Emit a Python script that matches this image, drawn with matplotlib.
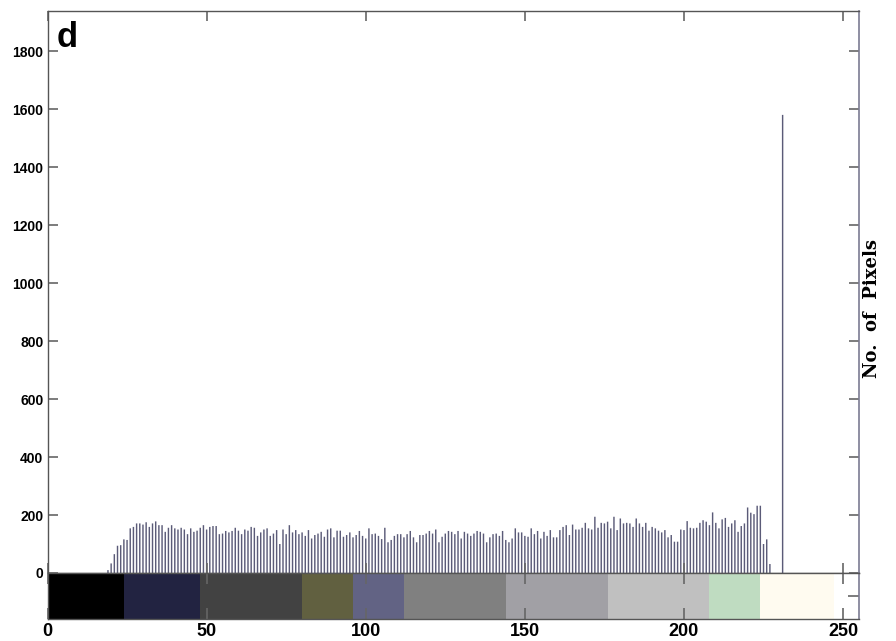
import numpy as np
import matplotlib
matplotlib.use("Agg")
import matplotlib.pyplot as plt

# Grey-level histogram: pixel counts per intensity level
levels = np.arange(19, 228)
counts = [
    10, 33, 65, 94, 96, 116, 114, 154, 159, 171,
    171, 167, 175, 159, 171, 178, 165, 165, 142, 156,
    165, 154, 150, 156, 150, 134, 154, 142, 146, 156,
    165, 150, 159, 162, 162, 134, 136, 145, 140, 145,
    156, 146, 134, 150, 146, 159, 156, 128, 140, 150,
    154, 128, 136, 148, 100, 150, 134, 165, 140, 148,
    134, 140, 128, 148, 119, 131, 136, 142, 125, 150,
    154, 123, 146, 146, 125, 131, 140, 123, 131, 145,
    128, 119, 154, 134, 136, 128, 117, 156, 106, 114,
    128, 134, 134, 123, 134, 145, 123, 106, 131, 131,
    136, 145, 136, 150, 106, 125, 136, 145, 142, 134,
    145, 119, 142, 136, 128, 136, 145, 142, 136, 106,
    123, 134, 136, 128, 145, 114, 106, 119, 154, 140,
    140, 128, 125, 154, 134, 145, 119, 142, 128, 148,
    123, 123, 148, 159, 165, 131, 167, 150, 150, 156,
    173, 154, 150, 194, 156, 173, 171, 177, 154, 194,
    148, 188, 171, 173, 171, 159, 188, 171, 159, 173,
    146, 159, 154, 146, 140, 148, 123, 131, 108, 108,
    150, 148, 179, 156, 154, 156, 173, 182, 177, 165,
    209, 173, 154, 185, 190, 159, 171, 182, 142, 162,
    171, 226, 208, 203, 232, 232, 100, 116, 31,
]
spike_level = [231]
spike_count = [1580]

# Colour-scale strip under the histogram
seg_edges = [0, 24, 48, 80, 96, 112, 144, 176, 208, 224, 247]
seg_colors = ["#000000", "#222341", "#424242", "#616040", "#626384",
              "#808080", "#a1a0a5", "#c0c0c0", "#bfdcc1", "#fffbf0"]

x_ticks = [0, 50, 100, 150, 200, 250]
y_ticks = [0, 200, 400, 600, 800, 1000, 1200, 1400, 1600, 1800]

W, H = 896, 641
fig = plt.figure(figsize=(W / 100, H / 100), dpi=100)

left, right = 47.5, 859
top, mid, bottom = 10.5, 573, 619
ax = fig.add_axes([left / W, 1 - mid / H, (right - left) / W, (mid - top) / H])
cax = fig.add_axes([left / W, 1 - bottom / H, (right - left) / W, (bottom - mid) / H])

bar_color = "#5b5b78"
ax.bar(levels, counts, width=0.45, color=bar_color, linewidth=0, snap=False)
ax.bar(spike_level, spike_count, width=0.45, color=bar_color, linewidth=0,
       snap=False)
ax.set_xlim(0, 255)
ax.set_ylim(0, 1940)

spine_col = "#555555"
tick_col = "#666666"
for a in (ax, cax):
    for s in ("left", "top", "bottom"):
        a.spines[s].set_color(spine_col)
        a.spines[s].set_linewidth(1.0)
    a.spines["right"].set_color("#7c7c92")
    a.spines["right"].set_linewidth(1.2)

font_tick = dict(family="Liberation Sans", weight="bold")

ax.set_xticks(x_ticks)
ax.set_xticklabels([])
ax.set_yticks(y_ticks)
ax.set_yticklabels([str(v) for v in y_ticks], fontsize=10, **font_tick)
ax.tick_params(direction="in", top=True, right=True, length=7, width=1.2,
               color=tick_col, pad=3)

# colour strip
seg_left = seg_edges[:-1]
seg_width = [b - a for a, b in zip(seg_edges[:-1], seg_edges[1:])]
cax.bar(seg_left, [1] * len(seg_left), width=seg_width, bottom=0, align="edge",
        color=seg_colors, linewidth=0)
cax.set_xlim(0, 255)
cax.set_ylim(0, 1)
cax.set_xticks(x_ticks)
cax.set_xticklabels([str(v) for v in x_ticks], fontsize=13, **font_tick)
cax.set_yticks([0.5])
cax.set_yticklabels([])
cax.tick_params(axis="x", direction="in", top=True, bottom=True, length=8,
                width=1.2, color=tick_col, pad=3)
cax.tick_params(axis="y", direction="in", left=False, right=True, length=8,
                width=1.2, color=tick_col)

fig.text(57 / W, 1 - 47 / H, "d", fontsize=25, fontweight="bold",
         family="Liberation Sans", va="baseline", ha="left")
fig.text(872 / W, 1 - 309 / H, "No.  of  Pixels", rotation=90, fontsize=13,
         fontweight="bold", family="DejaVu Serif", va="center", ha="center")

fig.savefig("out.png", dpi=100)
